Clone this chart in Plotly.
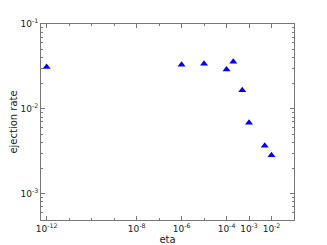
import plotly.graph_objects as go

# data
eta = [1e-12, 1e-6, 1e-5, 1e-4, 2e-4, 5e-4, 1e-3, 5e-3, 1e-2]
ejection_rate = [0.0312, 0.033, 0.0341, 0.029, 0.036, 0.0166, 0.00684, 0.00367, 0.00283]

x_tickvals = [1e-12, 1e-8, 1e-6, 1e-4, 1e-3, 1e-2]
x_ticktext = ["10<sup>-12</sup>", "10<sup>-8</sup>", "10<sup>-6</sup>",
              "10<sup>-4</sup>", "10<sup>-3</sup>", "10<sup>-2</sup>"]
y_tickvals = [1e-3, 1e-2, 1e-1]
y_ticktext = ["10<sup>-3</sup>", "10<sup>-2</sup>", "10<sup>-1</sup>"]

x_minor = [10.0 ** k for k in range(-12, -1)]
y_minor = [m * 10.0 ** k for k in range(-4, -1) for m in range(2, 10)]

font = {"size": 9, "color": "#222222", "family": "DejaVu Sans"}

fig = go.Figure()
fig.add_trace(
    go.Scatter(
        x=eta,
        y=ejection_rate,
        mode="markers",
        marker={"symbol": "triangle-up", "size": 7, "color": "#0000ff",
                "line": {"width": 0}},
        showlegend=False,
    )
)

axis_common = dict(
    type="log",
    automargin=False,
    showgrid=False,
    zeroline=False,
    showline=True,
    linecolor="#777777",
    linewidth=1,
    mirror="allticks",
    ticks="inside",
    ticklen=4,
    tickcolor="#777777",
    tickfont=font,
    tickmode="array",
)

fig.update_xaxes(
    **axis_common,
    range=[-12.25, -1],
    tickvals=x_tickvals,
    ticktext=x_ticktext,
    minor={"tickvals": x_minor, "ticks": "inside", "ticklen": 2,
           "tickcolor": "#777777", "showgrid": False},
    title={"text": "eta", "font": {**font, "size": 10}, "standoff": 0},
)
fig.update_yaxes(
    **axis_common,
    range=[-3.31, -1],
    tickvals=y_tickvals,
    ticktext=y_ticktext,
    minor={"tickvals": y_minor, "ticks": "inside", "ticklen": 2,
           "tickcolor": "#777777", "showgrid": False},
    title={"text": "ejection rate", "font": {**font, "size": 10}, "standoff": 2},
)

# page body has an 8px margin, so the plot box is shifted to compensate
fig.update_layout(
    width=327,
    height=245,
    margin={"l": 33, "r": 41, "t": 16, "b": 33},
    paper_bgcolor="white",
    plot_bgcolor="white",
)

fig.write_html("out.html")
